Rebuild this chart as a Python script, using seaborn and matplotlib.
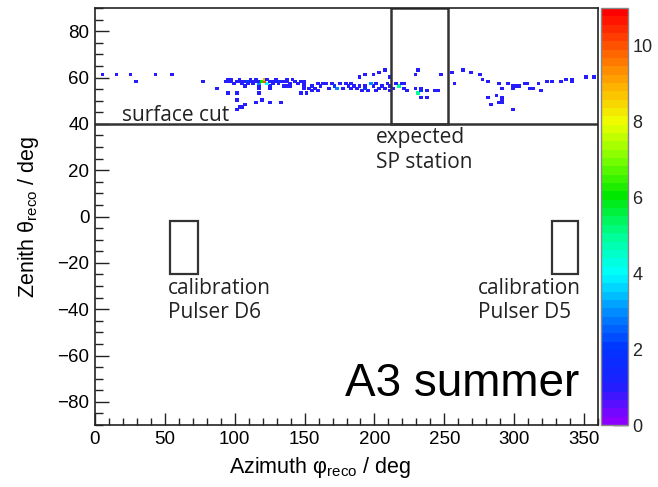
import numpy as np
import pandas as pd
import matplotlib
matplotlib.use("Agg")
import matplotlib.pyplot as plt
import seaborn as sns
from matplotlib.colors import LinearSegmentedColormap
from matplotlib.patches import Rectangle
from matplotlib.ticker import MultipleLocator

# ---- data: reconstructed directions (azimuth phi, zenith theta, entries) ----
phi_deg = [
    5, 14, 24, 29, 42, 54, 76, 86,
    95, 97, 103, 110, 114, 121, 123, 128, 136, 141,
    92, 94, 96, 100, 102, 105, 107, 109, 111, 113, 115, 117, 119, 121, 125, 127, 129, 131, 133, 135, 137, 142, 146, 148,
    99, 104, 108, 112, 117, 123, 126, 130, 139, 144,
    106, 116, 124, 134, 136, 138, 148,
    116, 125, 148,
    95, 101, 116,
    101, 118,
    114, 124, 132,
    100, 102, 104, 106,
    189, 192, 198, 203, 207, 210,
    147, 151, 155, 159,
    149, 154, 158, 162, 165, 168, 171, 174, 178, 180, 183, 185, 187, 190, 192, 193, 196, 198, 200, 203,
    205, 208, 210, 211, 214, 216, 218, 221, 223, 173,
    152, 157, 161, 166, 176, 182, 188, 194, 201, 206, 212, 220,
    229, 231, 233, 233, 237, 243, 245, 233, 237, 229, 231, 246, 254, 256, 262, 268, 275, 277, 280,
    289, 291, 286, 280, 290, 289, 291, 283, 298, 290,
    295, 298, 301, 303, 307, 309, 311, 313, 317, 318, 323, 327, 333, 336, 341, 341, 351, 357, 298,
]
theta_deg = [
    61, 61, 61, 58, 61, 61, 58, 55,
    59, 59, 59, 59, 59, 59, 59, 59, 59, 59,
    58, 58, 58, 58, 58, 58, 58, 58, 58, 58, 58, 58, 58, 58, 58, 58, 58, 58, 58, 58, 58, 58, 58, 58,
    57, 57, 57, 57, 57, 57, 57, 57, 57, 57,
    56, 56, 56, 56, 56, 56, 56,
    55, 55, 55,
    53, 53, 53,
    50, 50,
    49, 49, 49,
    46, 47, 47, 48,
    60, 61, 61, 62, 63, 60,
    53, 53, 54, 54,
    57, 56, 57, 57, 57, 57, 56, 57, 57, 56, 57, 56, 55, 54, 55, 56, 57, 56, 57, 55,
    56, 57, 56, 54, 57, 56, 57, 55, 54, 55,
    55, 55, 56, 55, 55, 55, 56, 54, 54, 55, 55, 57,
    55, 53, 55, 54, 54, 54, 54, 51, 51, 61, 63, 61, 62, 57, 63, 62, 61, 59, 58,
    57, 55, 52, 51, 51, 49, 49, 48, 46, 50,
    57, 56, 56, 56, 57, 57, 55, 55, 57, 54, 58, 58, 58, 59, 59, 58, 60, 60, 55,
]
counts = [
    1, 1, 1, 1, 1, 1, 1, 1,
    1, 1, 1, 1, 1, 9, 1, 1, 1, 1,
    1, 1, 1, 1, 1, 1, 1, 2, 1, 1, 1, 1, 6, 10, 1, 1, 1, 2, 1, 1, 1, 1, 1, 1,
    1, 1, 1, 1, 3, 4, 1, 1, 1, 1,
    1, 1, 1, 1, 1, 1, 1,
    1, 1, 1,
    1, 1, 1,
    1, 1,
    1, 1, 1,
    1, 1, 1, 1,
    1, 1, 1, 1, 1, 1,
    1, 1, 1, 1,
    1, 1, 1, 1, 1, 1, 2, 1, 1, 1, 1, 1, 1, 1, 2, 1, 3, 1, 1, 1,
    1, 1, 1, 1, 1, 5, 1, 1, 1, 3,
    1, 1, 1, 1, 1, 1, 1, 1, 1, 1, 1, 1,
    1, 5, 1, 2, 1, 1, 1, 1, 1, 1, 1, 1, 1, 1, 1, 1, 1, 1, 1,
    1, 1, 1, 1, 1, 1, 1, 1, 1, 1,
    1, 1, 1, 1, 1, 1, 1, 1, 1, 1, 1, 1, 1, 1, 1, 1, 1, 1, 1,
]

x_ticks = [0, 50, 100, 150, 200, 250, 300, 350]
y_ticks = [-80, -60, -40, -20, 0, 20, 40, 60, 80]
z_ticks = [0, 2, 4, 6, 8, 10]

# ---- style ----
sns.set_theme(style="white")
plt.rcParams['font.family'] = ['Liberation Sans', 'DejaVu Sans']
plt.rcParams['mathtext.fontset'] = 'custom'
plt.rcParams['mathtext.rm'] = 'Liberation Sans'
plt.rcParams['mathtext.it'] = 'Liberation Sans:italic'
ANN_FONT = ['Open Sans', 'DejaVu Sans']
LINE_C = '#333333'

root_cmap = LinearSegmentedColormap.from_list(
    "root_rainbow",
    [(0.00, "#8c00ff"), (0.09, "#1c20ff"), (0.18, "#0034ff"), (0.27, "#0090ff"),
     (0.36, "#00ffff"), (0.45, "#00ff9a"), (0.55, "#00e800"), (0.64, "#7cff00"),
     (0.73, "#f0ff00"), (0.82, "#ffb000"), (0.91, "#ff5a00"), (1.00, "#ff0000")],
    N=50)

df = pd.DataFrame({"phi": phi_deg, "theta": theta_deg, "n": counts})

fig = plt.figure(figsize=(6.58, 4.87), dpi=100)
ax = fig.add_axes([95/658, 62/487, 503/658, 417/487])
cax = fig.add_axes([601/658, 62/487, 27/658, 417/487])

sns.histplot(data=df, x="phi", y="theta", weights="n",
             binwidth=(2, 1), binrange=((0, 360), (-90, 90)),
             cmap=root_cmap, vmin=0, vmax=11,
             linewidth=0.5, edgecolor='face',
             cbar=True, cbar_ax=cax, ax=ax)

ax.set_xlim(0, 360)
ax.set_ylim(-90, 90)
ax.set_xticks(x_ticks)
ax.set_yticks(y_ticks)
ax.xaxis.set_minor_locator(MultipleLocator(10))
ax.yaxis.set_minor_locator(MultipleLocator(5))
ax.tick_params(axis='both', which='both', direction='in', bottom=True, left=True,
               top=False, right=False, color='#222222', labelcolor='black',
               labelsize=13.5, width=1)
ax.tick_params(axis='y', which='major', length=10, pad=4)
ax.tick_params(axis='y', which='minor', length=5.5)
ax.tick_params(axis='x', which='major', length=8.5, pad=4)
ax.tick_params(axis='x', which='minor', length=5)
for s in ax.spines.values():
    s.set_color('#222222')
    s.set_linewidth(1.2)

ax.set_xlabel(r"Azimuth φ$_{\mathrm{reco}}$ / deg", fontsize=15.5, color='black')
ax.set_ylabel(r"Zenith θ$_{\mathrm{reco}}$ / deg", fontsize=15.5, color='black')
ax.xaxis.set_label_coords(0.447, -0.072)
ax.yaxis.set_label_coords(-0.108, 0.5)

# colorbar
cax.set_ylim(0, 11)
cax.set_yticks(z_ticks)
cax.tick_params(axis='y', which='both', direction='in', right=True, left=False,
                length=10.5, width=1, color='#222222', labelsize=13, pad=3)
cax.yaxis.set_ticks_position('right')
for s in cax.spines.values():
    s.set_color('#888888')
    s.set_linewidth(1)

# surface cut and boxes
ax.axhline(40, color=LINE_C, lw=1.8)
ax.add_patch(Rectangle((212, 40), 41, 50, fill=False, ec=LINE_C, lw=1.8))
ax.add_patch(Rectangle((54, -25), 20, 23, fill=False, ec=LINE_C, lw=1.6))
ax.add_patch(Rectangle((327, -25), 19, 23, fill=False, ec=LINE_C, lw=1.6))

ax.text(19.3, 41.3, "surface cut", family=ANN_FONT, fontsize=15, color='#222222', va='baseline')
ax.text(201, 38.5, "expected\nSP station", family=ANN_FONT, fontsize=15, color='#222222',
        va='top', linespacing=1.2)
ax.text(52, -26.5, "calibration\nPulser D6", family=ANN_FONT, fontsize=15, color='#222222',
        va='top', linespacing=1.2)
ax.text(274, -26.5, "calibration\nPulser D5", family=ANN_FONT, fontsize=15, color='#222222',
        va='top', linespacing=1.2)
ax.text(179, -77.5, "A3 summer", fontsize=33, color='black', va='baseline')

fig.savefig("out.png", dpi=100)
